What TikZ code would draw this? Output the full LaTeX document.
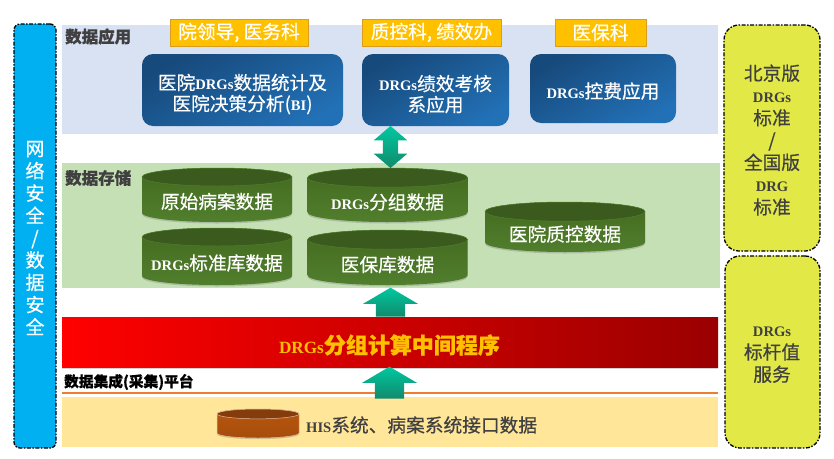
\documentclass[tikz,border=0pt]{standalone}
\usepackage{fontspec}
\setmainfont[RawFeature={embolden=0.5}]{Noto Sans CJK SC}
\newfontfamily\drgfont[Scale=0.78]{Liberation Serif}
\usetikzlibrary{shapes.arrows,shadows}
\definecolor{bandapp}{HTML}{D9E2F3}
\definecolor{bandstore}{HTML}{C5E0B4}
\definecolor{bandinput}{HTML}{FFE699}
\definecolor{sidecyan}{HTML}{00B0F0}
\definecolor{sideyellow}{HTML}{E2E947}
\definecolor{taborange}{HTML}{FFC000}
\definecolor{tabedge}{HTML}{D99E1E}
\definecolor{boxdark}{HTML}{174A7C}
\definecolor{boxlight}{HTML}{2270B5}
\definecolor{dbdark}{HTML}{44691F}
\definecolor{dblight}{HTML}{507F2D}
\definecolor{dbtop}{HTML}{3A5A1E}
\definecolor{hisdark}{HTML}{B8560E}
\definecolor{histop}{HTML}{843C0C}
\definecolor{arrowtop}{HTML}{00C8A0}
\definecolor{arrowbot}{HTML}{118A6C}
\definecolor{redend}{HTML}{9A0000}
\definecolor{lineorange}{HTML}{ED7D31}
\definecolor{textgray}{HTML}{404040}
\newcommand{\drg}[1]{{\drgfont\bfseries #1}}
\newcommand{\appstrut}[1]{\rule{0pt}{#1pt}}
% name, centre x, top y, bottom y, width, text
\newcommand{\dbcyl}[6]{%
    \pgfmathsetmacro{\dbrx}{#5/2}
    \pgfmathsetmacro{\dbry}{#5*0.06}
    \path[dbbody] ({#2-\dbrx},{#3+\dbry}) -- ({#2-\dbrx},{#4-\dbry})
        arc[start angle=180, end angle=360, x radius=\dbrx pt, y radius=\dbry pt]
        -- ({#2+\dbrx},{#3+\dbry})
        arc[start angle=0, end angle=180, x radius=\dbrx pt, y radius=\dbry pt] -- cycle;
    \path[dbcap] (#2,{#3+\dbry}) ellipse[x radius=\dbrx pt, y radius=\dbry pt];
    \node[dbtext] (#1) at (#2,{(#3+#4)/2+\dbry-2.5}) {#6};
}

\begin{document}
\begin{tikzpicture}[
    x=1pt, y=-1pt,
    band/.style={inner sep=0pt},
    bandname/.style={
        font=\fontsize{16.5}{18}\selectfont\bfseries,
        text=textgray,
        inner sep=0pt
    },
    sidebar/.style={
        draw=black,
        line width=1.3pt,
        dash pattern=on 4pt off 1.5pt on 1.5pt off 1.5pt,
        inner sep=0pt
    },
    tab/.style={
        draw=tabedge,
        fill=taborange,
        text=white,
        line width=0.8pt,
        minimum height=27pt,
        inner sep=0pt,
        font=\fontsize{18.7}{20}\selectfont
    },
    appbox/.style={
        rounded corners=11pt,
        top color=boxdark,
        bottom color=boxlight,
        shading angle=30,
        text=white,
        align=center,
        inner sep=0pt,
        font=\fontsize{18.7}{21}\selectfont
    },
    dbbody/.style={
        top color=dbdark,
        bottom color=dblight,
        drop shadow={opacity=0.35, shadow xshift=0pt, shadow yshift=-1.5pt}
    },
    dbcap/.style={fill=dbtop, draw=dblight, line width=0.5pt},
    dbtext/.style={
        text=white,
        inner sep=0pt,
        font=\fontsize{18.7}{21}\selectfont
    },
    uparrow/.style={
        single arrow,
        shape border rotate=90,
        single arrow head indent=0pt,
        single arrow head extend=13pt,
        single arrow tip angle=119,
        text width=29pt,
        inner sep=0pt,
        top color=arrowtop,
        bottom color=arrowbot
    },
    sidetext/.style={inner sep=0pt, align=center}
]

\useasboundingbox (0,0) rectangle (834,458);

\node[band, fill=bandapp, minimum width=656pt, minimum height=109pt] (appband) at (390,79.5) {};
\node[band, fill=bandstore, minimum width=658pt, minimum height=125pt] (storeband) at (391,225.5) {};
\node[band, fill=bandinput, minimum width=656pt, minimum height=50pt] (inputband) at (390,422) {};
\node[band, left color=red, middle color=red!90!black, right color=redend, minimum width=656pt, minimum height=50pt,
    drop shadow={opacity=0.35, shadow xshift=0pt, shadow yshift=-1.2pt}] (midband) at (390,342.5) {};
\node[inner sep=0pt, text=taborange, font=\fontsize{22}{24}\selectfont\bfseries] (midtext) at (389.5,345) {\drg{DRGs}分组计算中间程序};

\coordinate (lineleft) at (62,393);
\coordinate (lineright) at (718,393);
\draw[lineorange, line width=2pt] (lineleft) -- (lineright);

\node[bandname, anchor=west] (appname) at (65,36.5) {数据应用};
\node[bandname, anchor=west] (storename) at (65,178) {数据存储};
\node[bandname, anchor=west, text=black, font=\fontsize{14.7}{16}\selectfont\bfseries] (collectname) at (64,382) {数据集成(采集)平台};

\node[sidebar, fill=sidecyan, rounded corners=6pt, minimum width=42pt, minimum height=424pt] (safebar) at (35,236) {};
\node[sidetext, text=white, font=\fontsize{19}{22.3}\selectfont] (safetext) at (35,238) {网\\络\\安\\全\\/\\数\\据\\安\\全};

\node[sidebar, fill=sideyellow, rounded corners=15pt, minimum width=96pt, minimum height=226pt] (stdbar) at (772,138) {};
\node[sidebar, fill=sideyellow, rounded corners=15pt, minimum width=95pt, minimum height=192pt] (benchbar) at (772.5,352) {};
\node[sidetext, text=textgray, font=\fontsize{18.7}{22.3}\selectfont] (stdtext) at (772,140) {北京版\\\drg{DRGs}\\标准\\/\\全国版\\\drg{DRG}\\标准};
\node[sidetext, text=textgray, font=\fontsize{18.7}{22.3}\selectfont] (benchtext) at (772,355) {\drg{DRGs}\\标杆值\\服务};

\node[tab, minimum width=138pt] (tableader) at (239,32.5) {院领导, 医务科};
\node[tab, minimum width=139pt] (tabquality) at (431.5,32.5) {质控科, 绩效办};
\node[tab, minimum width=91pt] (tabinsure) at (600.5,32.5) {医保科};

\node[appbox, minimum width=201pt, minimum height=72pt] (biapp) at (242.5,90) {\appstrut{24}医院\drg{DRGs}数据统计及\\医院决策分析(\drg{BI})};
\node[appbox, minimum width=147pt, minimum height=72pt] (kpiapp) at (435.5,90) {\appstrut{24}\drg{DRGs}绩效考核\\系应用};
\node[appbox, minimum width=146pt, minimum height=69pt] (costapp) at (603,88.5) {\appstrut{21}\drg{DRGs}控费应用};

\dbcyl{rawdb}{217}{168}{222}{150}{原始病案数据}
\dbcyl{groupdb}{387.5}{168}{222}{160}{\drg{DRGs}分组数据}
\dbcyl{stddb}{217}{228}{285}{150}{\drg{DRGs}标准库数据}
\dbcyl{insuredb}{387.5}{230}{285}{160}{医保库数据}
\dbcyl{qualitydb}{565}{202}{252}{160}{医院质控数据}

\begin{scope}[
    dbbody/.style={
        top color=hisdark,
        bottom color=hisdark!90!black,
        draw=hisdark!40!white,
        line width=0.5pt,
        drop shadow={opacity=0.35, shadow xshift=0pt, shadow yshift=-1.2pt}
    },
    dbcap/.style={fill=histop, draw=hisdark!40!white, line width=0.5pt}
]
\dbcyl{hisdb}{258}{409}{438}{82}{}
\end{scope}
\node[inner sep=0pt, anchor=west, text=textgray, font=\fontsize{18.7}{20}\selectfont] (histext) at (306,425) {\drg{HIS}系统、病案系统接口数据};

\node[double arrow, shape border rotate=90, double arrow head indent=0pt, double arrow head extend=9pt, text width=15pt, inner sep=0pt,
    top color=arrowtop, bottom color=arrowbot, minimum height=42pt,
    double arrow tip angle=99] (arrowapp) at (390.5,147) {};
\node[uparrow, minimum height=29pt] (arrowmid) at (390.5,306.5) {};
\node[uparrow, minimum height=32pt] (arrowhis) at (389.5,387) {};

\end{tikzpicture}
\end{document}
